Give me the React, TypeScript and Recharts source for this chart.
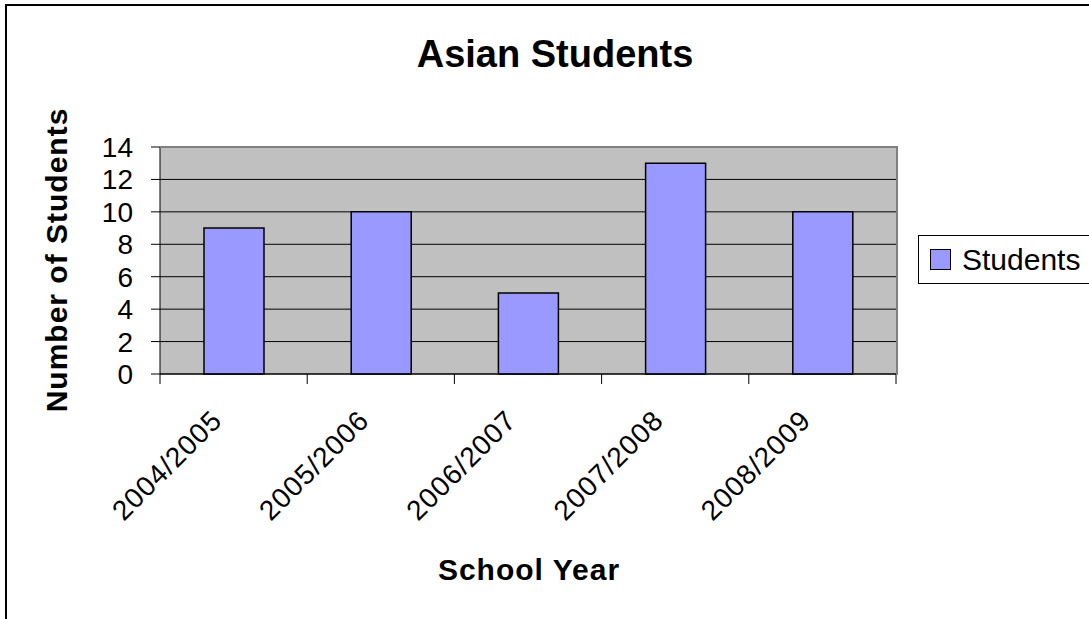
import React from "react";
import { Bar, BarChart, CartesianGrid, XAxis, YAxis } from "recharts";

// Enrolment by school year
const schoolYears = ["2004/2005", "2005/2006", "2006/2007", "2007/2008", "2008/2009"];
const students = [9, 10, 5, 13, 10];
const yTicks = [0, 2, 4, 6, 8, 10, 12, 14];

const data = schoolYears.map((year, i) => ({ year, students: students[i] }));

const W = 1089;
const H = 619;
const PLOT = { left: 160, right: 896, top: 147, bottom: 374 };
const BAND = (PLOT.right - PLOT.left) / schoolYears.length;
const FONT = "Arial, 'Liberation Sans', sans-serif";

// category label rotated 45deg, with tick marks on the category boundaries
function YearTick(props: any) {
  const { x, y, payload, index } = props;
  const isLast = index === schoolYears.length - 1;
  const ax = x - 10;
  const ay = y + 48;
  return (
    <g>
      <line x1={x - BAND / 2} x2={x - BAND / 2} y1={y} y2={y + 10} stroke="#000" />
      {isLast && <line x1={x + BAND / 2} x2={x + BAND / 2} y1={y} y2={y + 10} stroke="#000" />}
      <text
        x={ax}
        y={ay}
        transform={`rotate(-45 ${ax} ${ay})`}
        textAnchor="end"
        fontFamily={FONT}
        fontSize={28}
        letterSpacing={1}
        fill="#000"
      >
        {payload.value}
      </text>
    </g>
  );
}

function StudentsLegend() {
  return (
    <div
      style={{
        position: "absolute",
        left: 918,
        top: 235,
        width: 200,
        height: 49,
        border: "1px solid #000",
        background: "#fff",
        display: "flex",
        alignItems: "center",
        boxSizing: "border-box",
        fontFamily: FONT,
        fontSize: 30,
      }}
    >
      <span
        style={{
          display: "inline-block",
          width: 19,
          height: 19,
          background: "#9999FF",
          border: "1px solid #000",
          marginLeft: 11,
          marginRight: 11,
        }}
      />
      <span>Students</span>
    </div>
  );
}

export default function App() {
  return (
    <div style={{ position: "absolute", left: 0, top: 0, width: W, height: H, overflow: "hidden", background: "#fff" }}>
      <div
        style={{
          position: "absolute",
          left: 5,
          top: 4,
          width: W + 20,
          height: H + 20,
          border: "2px solid #000",
        }}
      />
      <div
        style={{
          position: "absolute",
          left: 0,
          width: 1110,
          top: 33,
          textAlign: "center",
          fontFamily: FONT,
          fontWeight: "bold",
          fontSize: 38,
        }}
      >
        Asian Students
      </div>
      <div
        style={{
          position: "absolute",
          left: 57,
          top: 260,
          transform: "translate(-50%, -50%) rotate(-90deg)",
          whiteSpace: "nowrap",
          fontFamily: FONT,
          fontWeight: "bold",
          fontSize: 30,
          letterSpacing: 1,
        }}
      >
        Number of Students
      </div>
      <div
        style={{
          position: "absolute",
          left: 529,
          top: 570,
          transform: "translate(-50%, -50%)",
          whiteSpace: "nowrap",
          fontFamily: FONT,
          fontWeight: "bold",
          fontSize: 30,
          letterSpacing: 1,
        }}
      >
        School Year
      </div>
      <BarChart
        width={W}
        height={H}
        data={data}
        margin={{ top: PLOT.top, right: W - PLOT.right, bottom: H - PLOT.bottom - 60, left: PLOT.left - 60 }}
        style={{ position: "absolute", left: 0, top: 0 }}
      >
        <CartesianGrid vertical={false} stroke="#000" fill="#C0C0C0" />
        <XAxis
          dataKey="year"
          height={60}
          interval={0}
          tickLine={false}
          tickSize={0}
          tickMargin={0}
          axisLine={{ stroke: "#000" }}
          tick={<YearTick />}
        />
        <YAxis
          width={60}
          domain={[0, 14]}
          ticks={yTicks}
          interval={0}
          tickSize={9}
          tickMargin={18}
          axisLine={{ stroke: "#000" }}
          tickLine={{ stroke: "#000" }}
          tick={{ fill: "#000", fontSize: 28, fontFamily: FONT }}
        />
        <Bar
          dataKey="students"
          name="Students"
          fill="#9999FF"
          stroke="#000"
          strokeWidth={1.5}
          barSize={60}
          isAnimationActive={false}
        />
      </BarChart>
      <div
        style={{
          position: "absolute",
          left: PLOT.left,
          top: PLOT.top - 1,
          width: PLOT.right - PLOT.left,
          height: PLOT.bottom - PLOT.top,
          borderTop: "2px solid #808080",
          borderRight: "2px solid #808080",
          pointerEvents: "none",
        }}
      />
      <StudentsLegend />
    </div>
  );
}
